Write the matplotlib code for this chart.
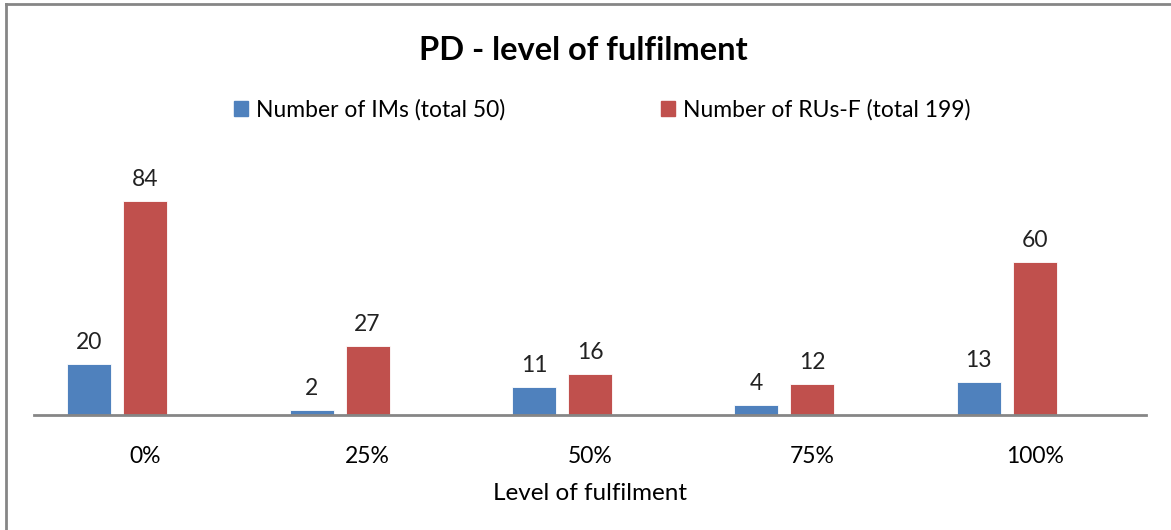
import matplotlib.pyplot as plt
import numpy as np
from matplotlib.lines import Line2D
from matplotlib.patches import Patch

categories = ['0%', '25%', '50%', '75%', '100%']
ims = [20, 2, 11, 4, 13]
rus = [84, 27, 16, 12, 60]
labels = ['Number of IMs (total 50)', 'Number of RUs-F (total 199)']

blue = '#4F81BD'
red = '#C0504D'

plt.rcParams['font.family'] = ['Lato', 'DejaVu Sans']

fig = plt.figure(figsize=(11.71, 5.30), dpi=100)
ax = fig.add_axes([34 / 1171, 115 / 530, 1112 / 1171, 255 / 530])

x = np.arange(len(categories))
w = 0.198
off = 0.252
b1 = ax.bar(x - off, ims, w, color=blue, edgecolor='white', linewidth=0.6)
b2 = ax.bar(x, rus, w, color=red, edgecolor='white', linewidth=0.6)
for bars in (b1, b2):
    ax.bar_label(bars, padding=8, fontsize=16.5, color='#222222')

ax.set_xlim(-0.5, len(categories) - 0.5)
ax.set_ylim(0, 100)
ax.set_xticks(x)
ax.set_xticklabels(categories, fontsize=16.5)
ax.tick_params(axis='x', length=0, pad=22)
ax.set_yticks([])
for s in ['top', 'right', 'left']:
    ax.spines[s].set_visible(False)
ax.spines['bottom'].set_color('#868686')
ax.spines['bottom'].set_linewidth(2)
ax.set_xlabel('Level of fulfilment', fontsize=17.5, labelpad=12)

fig.text(583 / 1171, 1 - 50 / 530, 'PD - level of fulfilment', ha='center', va='center',
         fontsize=23.5, fontweight='bold')

handles = [Patch(color=blue), Patch(color=red)]
fig.legend(handles, labels, loc='center', bbox_to_anchor=(602 / 1171, 1 - 110 / 530),
           ncol=2, frameon=False, fontsize=16.5, handlelength=0.6, handleheight=0.6,
           handletextpad=0.35, columnspacing=6.8)

# chart border (left and top visible)
fig.add_artist(Line2D([6 / 1171, 6 / 1171], [0, 1 - 4 / 530], color='#868686', lw=2))
fig.add_artist(Line2D([6 / 1171, 1], [1 - 4 / 530, 1 - 4 / 530], color='#868686', lw=2))

fig.savefig('out.png', dpi=100)
